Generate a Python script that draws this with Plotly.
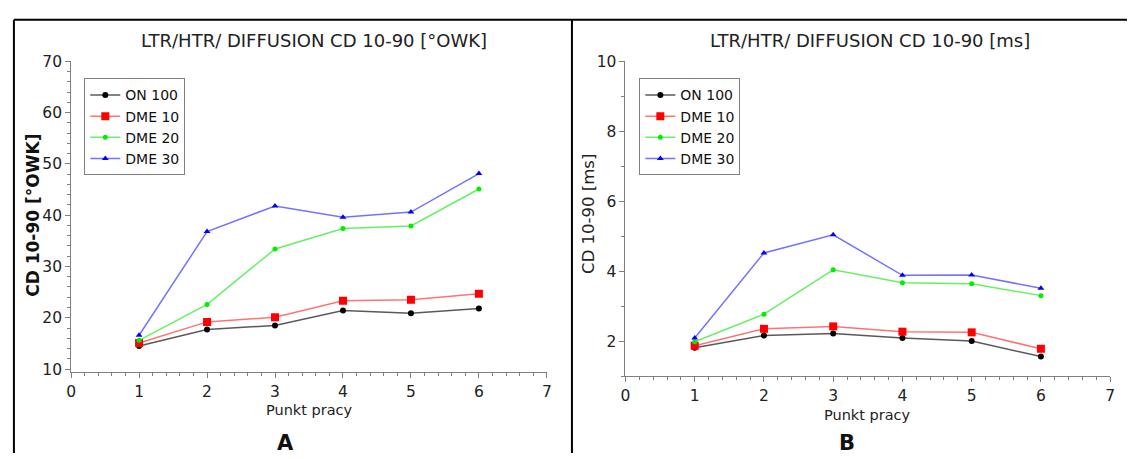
import plotly.graph_objects as go

W, H = 1132, 459

points = [1, 2, 3, 4, 5, 6]
series_names = ["ON 100", "DME 10", "DME 20", "DME 30"]

owk_on100 = [14.5, 17.7, 18.5, 21.4, 20.9, 21.8]
owk_dme10 = [15.1, 19.2, 20.1, 23.3, 23.5, 24.7]
owk_dme20 = [15.6, 22.6, 33.4, 37.4, 37.9, 45.1]
owk_dme30 = [16.6, 36.8, 41.8, 39.6, 40.6, 48.1]

ms_on100 = [1.81, 2.16, 2.22, 2.09, 2.00, 1.56]
ms_dme10 = [1.87, 2.35, 2.42, 2.27, 2.25, 1.78]
ms_dme20 = [1.98, 2.77, 4.04, 3.67, 3.64, 3.30]
ms_dme30 = [2.09, 4.52, 5.04, 3.88, 3.89, 3.51]

line_colors = ["rgba(0,0,0,0.65)", "rgba(255,0,0,0.55)", "rgba(0,230,0,0.6)", "rgba(40,40,255,0.65)"]
marker_colors = ["#000000", "#ff0000", "#00ee00", "#0000ff"]
symbols = ["circle", "square", "circle", "triangle-up"]
sizes = [6, 8, 5, 6]

FONT = "DejaVu Sans"
TXT = "#222222"
AX = "#7f7f7f"


def px(x):
    return x / W


def py(y):
    return 1 - y / H


fig = go.Figure()

left = [owk_on100, owk_dme10, owk_dme20, owk_dme30]
right = [ms_on100, ms_dme10, ms_dme20, ms_dme30]

for i, name in enumerate(series_names):
    fig.add_trace(go.Scatter(
        x=points, y=left[i], name=name, mode="lines+markers",
        line=dict(color=line_colors[i], width=1.5),
        marker=dict(color=marker_colors[i], symbol=symbols[i], size=sizes[i]),
        xaxis="x", yaxis="y", legend="legend"))
for i, name in enumerate(series_names):
    fig.add_trace(go.Scatter(
        x=points, y=right[i], name=name, mode="lines+markers",
        line=dict(color=line_colors[i], width=1.5),
        marker=dict(color=marker_colors[i], symbol=symbols[i], size=sizes[i]),
        xaxis="x2", yaxis="y2", legend="legend2"))

axis_common = dict(
    showline=True, linecolor=AX, linewidth=1, ticks="outside", ticklen=5,
    tickcolor=AX, showgrid=False, zeroline=False,
    tickfont=dict(family=FONT, size=15.5, color=TXT),
)

legend_common = dict(
    xanchor="left", yanchor="top", bordercolor="#808080", borderwidth=1,
    bgcolor="white", itemwidth=30, tracegroupgap=0,
    font=dict(family=FONT, size=14, color="#111111"),
)

fig.update_layout(
    width=W, height=H,
    margin=dict(l=0, r=0, t=0, b=0),
    paper_bgcolor="white", plot_bgcolor="white",
    font=dict(family=FONT, color=TXT),
    xaxis=dict(domain=[px(66.7), px(546.7)], range=[0, 7], dtick=1, anchor="y",
               minor=dict(dtick=0.2, ticks="outside", ticklen=3, tickcolor=AX),
               **axis_common),
    yaxis=dict(domain=[py(375.7), py(54)], range=[9.35, 70], tick0=10, dtick=10, anchor="x",
               minor=dict(dtick=2, ticks="outside", ticklen=3, tickcolor=AX),
               **axis_common),
    xaxis2=dict(domain=[px(626), px(1115)], range=[0, 7], dtick=1, anchor="y2",
                minor=dict(dtick=0.2, ticks="outside", ticklen=3, tickcolor=AX),
                **axis_common),
    yaxis2=dict(domain=[py(379.5), py(54)], range=[1, 10], tick0=0, dtick=2, anchor="x2",
                minor=dict(dtick=1, ticks="outside", ticklen=3, tickcolor=AX),
                **axis_common),
    legend=dict(x=px(80), y=py(71.7), **legend_common),
    legend2=dict(x=px(640), y=py(71.7), **legend_common),
    showlegend=True,
)

annos = [
    dict(text="LTR/HTR/ DIFFUSION CD 10-90 [°OWK]", x=312, y=33, size=18, bold=False, angle=0),
    dict(text="LTR/HTR/ DIFFUSION CD 10-90 [ms]", x=873, y=33, size=18, bold=False, angle=0),
    dict(text="Punkt pracy", x=307, y=415, size=14.5, bold=False, angle=0),
    dict(text="Punkt pracy", x=870, y=420, size=14.5, bold=False, angle=0),
    dict(text="<b>CD 10-90 [°OWK]</b>", x=28, y=213, size=17, bold=True, angle=-90),
    dict(text="CD 10-90 [ms]", x=588, y=212, size=16.5, bold=False, angle=-90),
    dict(text="<b>A</b>", x=283, y=449, size=21, bold=True, angle=0),
    dict(text="<b>B</b>", x=849, y=449, size=21, bold=True, angle=0),
]
for a in annos:
    fig.add_annotation(text=a["text"], x=px(a["x"]), y=py(a["y"]), xref="paper", yref="paper",
                       showarrow=False, xanchor="center", yanchor="middle", textangle=a["angle"],
                       font=dict(family=FONT, size=a["size"], color="#111111" if a["bold"] else TXT))

# panel frame lines
frame = [
    (9, 11, 1132, 11, 2),
    (9, 11, 9, 459, 2),
    (572, 11, 572, 459, 2),
]
for x0, y0, x1, y1, w in frame:
    fig.add_shape(type="line", xref="paper", yref="paper",
                  x0=px(x0), y0=py(y0), x1=px(x1), y1=py(y1),
                  line=dict(color="black", width=w))

fig.write_html("out.html", config={"displayModeBar": False},
               post_script="document.body.style.margin='0';")
